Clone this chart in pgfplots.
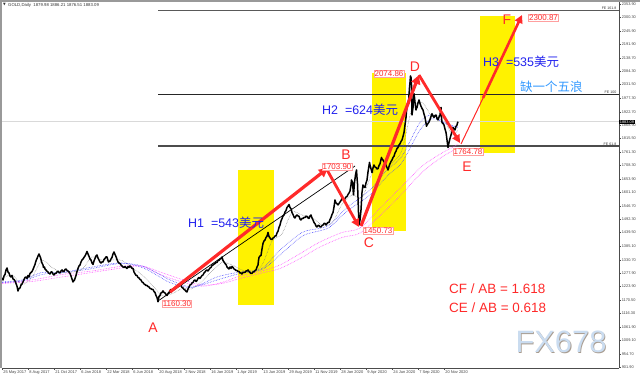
\documentclass[border=0pt]{standalone}
\usepackage{pgfplots}
\pgfplotsset{compat=1.18}
\usepackage{fontspec}
\setmainfont{Liberation Sans}
\newfontfamily\cjk{Noto Sans CJK SC}
\newfontfamily\dv{DejaVu Sans}
\usetikzlibrary{arrows.meta}
\definecolor{hblue}{HTML}{2222EE}
\definecolor{lblue}{HTML}{3399FF}
\definecolor{rred}{HTML}{FF2A2A}
\definecolor{mablue}{HTML}{4444FF}
\definecolor{mamag}{HTML}{FF44FF}
\definecolor{wm}{HTML}{CADCF0}
\definecolor{wmsh}{HTML}{A89C90}
\begin{document}
\begin{tikzpicture}
\begin{axis}[
  scale only axis, width=617bp, height=366bp,
  xmin=0, xmax=1234, ymin=897.9, ymax=2361.9,
  axis x line*=bottom, axis y line*=right,
  axis line style={black!70, line width=0.6bp},
  clip=false,
  tick align=outside, major tick length=2bp,
  tick style={black!70, line width=0.4bp},
  xtick={0,52,104,156,208,260,312,364,416,468,520,572,624,676,728,780,832,884},
  xticklabels={25 May 2017,8 Aug 2017,21 Oct 2017,6 Jan 2018,22 Mar 2018,6 Jun 2018,20 Aug 2018,2 Nov 2018,16 Jan 2019,1 Apr 2019,13 Jun 2019,29 Aug 2019,11 Nov 2019,28 Jan 2020,9 Apr 2020,24 Jun 2020,7 Sep 2020,20 Nov 2020},
  xticklabel style={font=\fontsize{4}{5}\selectfont, text=black!75, anchor=north west, inner sep=0.8bp, xshift=0.3bp},
  ytick={901.9,954.7,1009.1,1061.9,1116.3,1170.5,1223.9,1277.9,1330.7,1385.1,1439.5,1492.3,1546.7,1601.1,1653.9,1708.3,1761.3,1815.5,1868.9,1922.7,1977.3,2031.5,2084.3,2138.7,2191.9,2245.9,2300.3,2353.9},
  yticklabels={901.90,954.70,1009.10,1061.90,1116.30,1170.50,1223.90,1277.90,1330.70,1385.10,1439.50,1492.30,1546.70,1601.10,1653.90,1708.30,1761.30,1815.50,1868.90,1922.70,1977.30,2031.50,2084.30,2138.70,2191.90,2245.90,2300.30,2353.90},
  yticklabel style={font=\fontsize{3.9}{5}\selectfont, text=black!75, anchor=west, inner sep=0.6bp},
]
% yellow boxes
\addplot[fill=yellow, draw=none, forget plot] coordinates {(472,1149.9) (544,1149.9) (544,1689.9) (472,1689.9)} -- cycle;
\addplot[fill=yellow, draw=none, forget plot] coordinates {(740,1447.1) (807,1447.1) (807,2077.9) (740,2077.9)} -- cycle;
\addplot[fill=yellow, draw=none, forget plot] coordinates {(956,1757.9) (1026,1757.9) (1026,2305.9) (956,2305.9)} -- cycle;
% horizontal lines
\addplot[black!15, line width=0.6bp] coordinates {(0,1883.09) (1234,1883.09)};
\addplot[black!65, line width=1.1bp] coordinates {(312,2328) (1234,2328)};
\addplot[black!85, line width=0.8bp] coordinates {(312,1991) (1234,1991)};
\addplot[black!70, line width=1.1bp] coordinates {(312,1786) (1234,1786)};
% moving averages
\addplot[mamag, densely dotted, line width=0.6bp, smooth] coordinates {(0,1238) (60,1250) (120,1272) (180,1286) (240,1305) (280,1305) (316,1272) (360,1242) (400,1225) (440,1240) (476,1266) (520,1286) (556,1310) (600,1360) (634,1400) (680,1440) (716,1458) (760,1545) (800,1625) (840,1705) (880,1758) (912,1792)};
\addplot[mamag, densely dotted, line width=0.6bp, smooth] coordinates {(0,1236) (60,1244) (120,1262) (180,1280) (240,1298) (280,1306) (316,1282) (360,1252) (400,1230) (440,1236) (476,1256) (520,1278) (556,1296) (600,1340) (634,1380) (680,1420) (716,1438) (760,1515) (800,1595) (840,1680) (880,1742) (912,1778)};
\addplot[mablue, densely dotted, line width=0.6bp, smooth] coordinates {(0,1242) (40,1250) (80,1280) (116,1278) (170,1298) (236,1318) (280,1300) (316,1262) (336,1240) (380,1220) (430,1262) (476,1282) (520,1296) (556,1370) (600,1440) (634,1456) (656,1472) (690,1540) (736,1610) (770,1690) (800,1745) (836,1880) (860,1910) (890,1872) (912,1862)};
\addplot[mablue, densely dotted, line width=0.6bp, smooth] coordinates {(0,1240) (40,1246) (80,1272) (116,1280) (170,1292) (236,1316) (280,1306) (316,1272) (336,1250) (380,1222) (430,1250) (476,1276) (520,1292) (556,1350) (600,1425) (634,1446) (656,1462) (690,1525) (736,1590) (770,1665) (800,1720) (836,1850) (860,1895) (890,1875) (912,1860)};
\addplot[black!55, densely dotted, line width=0.5bp, smooth] coordinates {(0,1255) (20,1270) (40,1232) (60,1262) (80,1328) (100,1300) (120,1280) (140,1282) (160,1292) (180,1342) (200,1330) (220,1330) (240,1328) (260,1300) (280,1270) (300,1230) (320,1188) (340,1195) (360,1215) (380,1215) (400,1245) (420,1285) (440,1320) (460,1310) (480,1290) (500,1282) (520,1310) (540,1405) (560,1435) (580,1520) (600,1510) (620,1500) (640,1470) (660,1478) (680,1552) (700,1590) (720,1580) (740,1675) (760,1710) (780,1718) (800,1770) (820,1935) (840,1960) (860,1905) (880,1905) (900,1832) (912,1850)};
% price
\addplot[black, line width=1.5bp, line join=round] coordinates {
(0,1258) (2,1250) (4,1266) (6,1272) (8,1290) (10,1298) (12,1282) (14,1278) (16,1266) (18,1262) (20,1268) (22,1254) (24,1252) (26,1246) (28,1236) (30,1225) (32,1206) (34,1216) (36,1218) (38,1230) (40,1234) (42,1242) (44,1252) (46,1260) (48,1262) (50,1256) (52,1268) (54,1262) (56,1276) (58,1280) (60,1284) (62,1292) (64,1302) (66,1312) (67,1320) (69,1332) (70,1335) (72,1346) (74,1354) (76,1344) (77,1340) (79,1324) (80,1318) (82,1310) (83,1300) (85,1302) (86,1294) (88,1290) (90,1285) (92,1282) (93,1278) (95,1276) (96,1274) (98,1282) (100,1282) (102,1274) (104,1270) (106,1276) (108,1276) (110,1282) (112,1285) (114,1280) (116,1278) (118,1286) (120,1290) (122,1284) (124,1284) (126,1292) (128,1294) (130,1288) (132,1286) (134,1282) (136,1276) (138,1266) (140,1254) (142,1242) (144,1248) (145,1250) (147,1262) (148,1268) (150,1284) (152,1296) (154,1306) (156,1310) (158,1322) (160,1330) (162,1334) (164,1340) (166,1346) (168,1354) (170,1364) (172,1354) (174,1345) (176,1334) (178,1330) (180,1318) (182,1312) (184,1326) (186,1336) (188,1346) (190,1350) (192,1338) (194,1330) (196,1322) (198,1318) (200,1322) (202,1322) (204,1332) (206,1336) (208,1342) (210,1342) (212,1328) (213,1322) (215,1326) (216,1325) (218,1334) (220,1340) (222,1354) (224,1362) (226,1352) (227,1348) (229,1338) (230,1332) (232,1322) (234,1318) (236,1316) (238,1310) (240,1306) (242,1302) (244,1300) (246,1304) (248,1300) (250,1296) (252,1304) (254,1300) (256,1306) (258,1302) (260,1296) (262,1296) (264,1282) (266,1275) (268,1268) (270,1268) (272,1260) (274,1258) (276,1252) (278,1250) (280,1242) (282,1240) (284,1234) (286,1232) (288,1228) (290,1228) (292,1224) (294,1222) (296,1216) (298,1215) (300,1212) (302,1212) (304,1204) (306,1200) (308,1188) (310,1180) (312,1163) (314,1184) (316,1188) (318,1198) (320,1200) (322,1206) (324,1200) (326,1198) (328,1192) (330,1188) (332,1196) (334,1200) (336,1208) (338,1212) (340,1206) (342,1210) (344,1216) (346,1218) (348,1224) (350,1224) (352,1230) (354,1232) (356,1228) (358,1228) (360,1220) (362,1218) (364,1212) (366,1210) (368,1204) (370,1202) (372,1214) (374,1222) (376,1230) (378,1232) (380,1238) (382,1240) (384,1248) (386,1250) (388,1244) (390,1248) (392,1256) (394,1260) (396,1256) (398,1262) (400,1268) (402,1270) (404,1278) (406,1282) (408,1288) (410,1290) (412,1286) (414,1292) (416,1298) (418,1300) (420,1308) (422,1310) (424,1314) (426,1315) (428,1320) (430,1320) (432,1328) (434,1328) (436,1334) (438,1335) (440,1342) (442,1328) (444,1322) (446,1316) (448,1312) (450,1302) (452,1298) (454,1294) (456,1302) (458,1296) (460,1304) (462,1300) (464,1294) (466,1292) (468,1288) (470,1288) (472,1284) (474,1284) (476,1278) (478,1278) (480,1274) (482,1280) (484,1280) (486,1280) (488,1286) (490,1286) (492,1290) (494,1284) (496,1280) (498,1276) (500,1276) (502,1282) (504,1282) (506,1288) (508,1290) (510,1302) (512,1310) (513,1328) (514,1340) (516,1346) (518,1348) (520,1374) (522,1396) (524,1406) (526,1410) (528,1420) (530,1425) (532,1440) (534,1424) (536,1418) (538,1412) (540,1412) (542,1418) (544,1420) (546,1426) (548,1426) (550,1438) (552,1445) (554,1460) (556,1470) (558,1486) (560,1495) (562,1506) (564,1510) (566,1522) (568,1528) (570,1540) (572,1545) (574,1552) (576,1540) (578,1535) (580,1520) (582,1512) (584,1502) (586,1498) (588,1506) (590,1510) (592,1506) (594,1505) (596,1494) (598,1490) (600,1496) (602,1496) (604,1500) (606,1500) (608,1504) (610,1505) (612,1498) (614,1496) (616,1506) (618,1510) (620,1498) (622,1490) (624,1480) (626,1475) (628,1466) (630,1462) (632,1468) (634,1468) (636,1462) (638,1462) (640,1468) (642,1470) (644,1476) (646,1476) (648,1470) (650,1476) (652,1480) (654,1480) (656,1492) (658,1500) (660,1512) (662,1520) (664,1542) (666,1570) (668,1558) (670,1555) (672,1550) (674,1556) (676,1562) (678,1568) (680,1576) (682,1572) (684,1568) (686,1576) (688,1582) (690,1584) (692,1592) (694,1598) (696,1606) (698,1630) (699,1650) (701,1640) (703,1590) (705,1640) (707,1670) (709,1690) (710,1660) (711,1635) (712,1580) (713,1520) (714,1470) (715,1480) (716,1490) (718,1530) (720,1600) (722,1630) (724,1622) (726,1620) (728,1638) (730,1650) (732,1682) (735,1720) (736,1710) (738,1695) (740,1680) (742,1698) (744,1710) (746,1702) (748,1700) (750,1694) (752,1695) (754,1708) (756,1715) (758,1732) (759,1740) (760,1734) (762,1730) (764,1722) (766,1720) (768,1708) (770,1700) (772,1690) (774,1704) (776,1715) (778,1724) (780,1730) (782,1740) (784,1745) (786,1758) (788,1765) (790,1776) (792,1780) (794,1790) (796,1795) (798,1804) (800,1810) (802,1824) (804,1840) (806,1870) (808,1900) (809,1925) (810,1940) (812,1965) (813,1955) (814,1990) (815,2020) (816,2040) (817,2066) (818,2060) (819,2030) (820,1910) (821,1925) (822,1940) (823,1975) (824,1995) (825,1980) (826,1960) (827,1945) (828,1930) (829,1938) (830,1940) (832,1958) (834,1970) (836,1956) (838,1945) (840,1936) (842,1930) (844,1914) (846,1900) (848,1878) (849,1865) (850,1870) (852,1876) (854,1882) (856,1892) (858,1904) (860,1915) (862,1906) (864,1900) (866,1908) (868,1910) (870,1896) (872,1890) (874,1902) (876,1910) (877,1925) (878,1940) (879,1900) (880,1880) (882,1876) (884,1870) (886,1854) (888,1840) (889,1826) (890,1810) (891,1795) (892,1780) (893,1790) (894,1800) (896,1816) (898,1830) (900,1844) (902,1860) (904,1854) (906,1850) (908,1864) (910,1870) (911,1878) (912,1883)};
% A-B black line
\addplot[black, line width=0.7bp] coordinates {(312,1165.9) (706,1705.9)};
% red arrows
\addplot[rred, line width=3.2bp, -{Triangle[length=9bp,width=9bp]}] coordinates {(336,1201.9) (652,1697.9)};
\addplot[rred, line width=2.8bp, -{Triangle[length=8bp,width=8bp]}] coordinates {(648,1697.9) (714,1461.9)};
\addplot[rred, line width=3.2bp, -{Triangle[length=9bp,width=9bp]}] coordinates {(718,1465.9) (834,2069.9)};
\addplot[rred, line width=2.8bp, -{Triangle[length=8bp,width=8bp]}] coordinates {(834,2069.9) (916,1797.9)};
\addplot[rred, line width=1bp] coordinates {(918,1793.9) (966,1993.9)};
\addplot[rred, line width=2.6bp, -{Triangle[length=8bp,width=8bp]}] coordinates {(962,1978) (1040,2309.9)};
% value boxes
\tikzset{vbox/.style={draw=rred!45, text=rred, fill=white, inner sep=0.6bp, font=\fontsize{8}{9}\selectfont, line width=0.5bp}}
\node[vbox] at (axis cs:350,1155.9) {1160.30};
\node[vbox] at (axis cs:670,1703.9) {1703.90};
\node[vbox] at (axis cs:752,1445.9) {1450.73};
\node[vbox] at (axis cs:774,2073.9) {2074.86};
\node[vbox] at (axis cs:932,1761.9) {1764.78};
\node[vbox] at (axis cs:1083,2299.9) {2300.87};
% letters
\tikzset{lt/.style={text=rred, font=\fontsize{14}{16}\selectfont, inner sep=0pt}}
\node[lt] at (axis cs:302,1057.9) {A};
\node[lt] at (axis cs:688,1749.9) {B};
\node[lt] at (axis cs:734,1397.9) {C};
\node[lt] at (axis cs:826,2101.9) {D};
\node[lt] at (axis cs:930,1701.9) {E};
\node[lt] at (axis cs:1010,2289.9) {F};
% H texts
\tikzset{ht/.style={text=hblue, font=\fontsize{12.5}{14}\selectfont, anchor=west, inner sep=0pt}}
\node[ht] at (axis cs:372,1477.9) {H1\ \ =543{\cjk 美元}};
\node[ht] at (axis cs:640,1929.9) {H2\ \ =624{\cjk 美元}};
\node[ht] at (axis cs:962,2121.9) {H3\ \ =535{\cjk 美元}};
\node[text=lblue, font=\fontsize{12.5}{14}\selectfont\cjk, anchor=west, inner sep=0pt] at (axis cs:1036,2021.9) {缺一个五浪};
\node[text=rred, font=\fontsize{13.5}{15}\selectfont, anchor=west, inner sep=0pt] at (axis cs:894,1213.9) {CF / AB = 1.618};
\node[text=rred, font=\fontsize{13.5}{15}\selectfont, anchor=west, inner sep=0pt] at (axis cs:894,1137.9) {CE / AB = 0.618};
% watermark
\node[text=wmsh, font=\fontsize{31}{33}\selectfont, inner sep=0pt] at ([shift={(0.8bp,-0.8bp)}]axis cs:1118,1001.9) {FX678};
\node[text=wm, font=\fontsize{31}{33}\selectfont, inner sep=0pt] at (axis cs:1118,1001.9) {FX678};
% fib labels
\tikzset{fl/.style={text=black!80, font=\fontsize{3.6}{4}\selectfont, anchor=south east, inner sep=0.5bp}}
\node[fl] at (axis cs:1230,2328) {FE 161.8};
\node[fl] at (axis cs:1230,1991) {FE 100};
\node[fl] at (axis cs:1230,1786) {FE 61.8};
% current price
\node[fill=black, text=white, font=\fontsize{3.9}{5}\selectfont, anchor=west, inner sep=0.7bp] at (axis cs:1234,1883.09) {1883.09};
% title
\node[text=black!80, font=\fontsize{4.3}{5}\selectfont, anchor=west, inner sep=0pt] at (axis cs:12,2349.9) {GOLD,Daily\ \ 1879.98 1886.21 1876.51 1883.09};
\node[text=black!80, font=\fontsize{3.5}{4}\selectfont\dv, inner sep=0pt] at (axis cs:5,2349.9) {▼};
\end{axis}
\fill[black!40] ([shift={(-2bp,0bp)}]current axis.south west) rectangle ([shift={(0bp,2bp)}]current axis.north west);
\fill[black!40] ([shift={(-2bp,0bp)}]current axis.north west) rectangle ([shift={(21bp,1.5bp)}]current axis.north east);
\pgfresetboundingbox
\path[use as bounding box] ([shift={(-2bp,-10bp)}]current axis.south west) rectangle ++(640bp,378bp);
\end{tikzpicture}
\end{document}
